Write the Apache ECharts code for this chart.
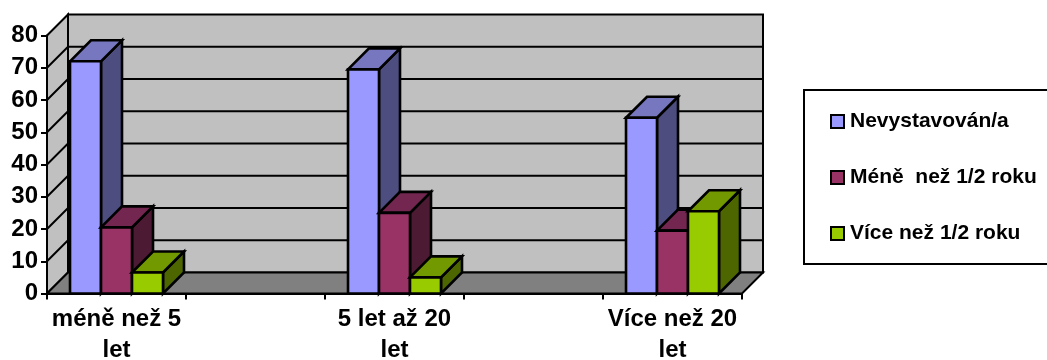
<!DOCTYPE html>
<html>
<head>
<meta charset="utf-8">
<style>html,body{margin:0;padding:0;background:#fff}#chart{width:1047px;height:360px}</style>
<script src="https://cdn.jsdelivr.net/npm/echarts@6/dist/echarts.min.js"></script>
</head>
<body>
<div id="chart"></div>
<script>
// The category axis has blank slots between the three age groups
const categories = ['méně než 5\nlet', '', '5 let až 20\nlet', '', 'Více než 20\nlet'];
const seriesNames = ['Nevystavován/a', 'Méně  než 1/2 roku', 'Více než 1/2 roku'];
const nevystavovan = [72, null, 69.5, null, 54.5];
const menePulRoku = [20.5, null, 25, null, 19.5];
const vicePulRoku = [6.5, null, 5, null, 25.5];
const yTicks = [0, 10, 20, 30, 40, 50, 60, 70, 80];

// Face colours of each box: front, top, side
const faceColors = [
  ['#9999FF', '#7777BF', '#4D4D80'],
  ['#993366', '#732650', '#4D1A33'],
  ['#99CC00', '#739900', '#4D6600']
];
const DEPTH = 21;
const LINE = { stroke: '#000', lineWidth: 2 };
const BOX_LINE = { stroke: '#000', lineWidth: 2.6 };

function poly(points, fill, line) {
  return { type: 'polygon', shape: { points }, style: { fill, ...line, lineJoin: 'miter' } };
}

// Back wall, side wall and floor of the 3D box, with gridlines from the value axis
function renderFrame(params, api) {
  const c = params.coordSys;
  const x0 = c.x, x1 = c.x + c.width, top = c.y, bot = c.y + c.height;
  const d = DEPTH;
  const children = [
    poly([[x0 + d, top - d], [x1 + d, top - d], [x1 + d, bot - d], [x0 + d, bot - d]], '#C0C0C0', LINE),
    poly([[x0, top], [x0 + d, top - d], [x0 + d, bot - d], [x0, bot]], '#C0C0C0', LINE),
    poly([[x0, bot], [x0 + d, bot - d], [x1 + d, bot - d], [x1, bot]], '#808080', LINE)
  ];
  yTicks.slice(1, -1).forEach(t => {
    const y = api.coord([0, t])[1];
    children.push({ type: 'polyline', shape: { points: [[x0, y], [x0 + d, y - d], [x1 + d, y - d]] }, style: { fill: null, ...LINE } });
  });
  return { type: 'group', children };
}

function boxRenderer(seriesIdx) {
  return function (params, api) {
    const cat = api.value(0);
    const center = api.coord([cat, 0])[0];
    const w = api.size([1, 0])[0] * 0.223;
    const x0 = center + (seriesIdx - 1.5) * w, x1 = x0 + w;
    const yTop = api.coord([cat, api.value(1)])[1];
    const yBot = api.coord([cat, 0])[1];
    const d = DEPTH;
    const [front, topFace, side] = faceColors[seriesIdx];
    return {
      type: 'group',
      children: [
        poly([[x1, yTop], [x1 + d, yTop - d], [x1 + d, yBot - d], [x1, yBot]], side, BOX_LINE),
        poly([[x0, yTop], [x0 + d, yTop - d], [x1 + d, yTop - d], [x1, yTop]], topFace, BOX_LINE),
        poly([[x0, yTop], [x1, yTop], [x1, yBot], [x0, yBot]], front, BOX_LINE)
      ]
    };
  };
}

function boxSeries(name, values, idx) {
  return {
    type: 'custom',
    name,
    coordinateSystem: 'cartesian2d',
    renderItem: boxRenderer(idx),
    encode: { x: 0, y: 1 },
    itemStyle: { color: faceColors[idx][0] },
    data: values.map((v, i) => [i, v]).filter(row => row[1] !== null),
    clip: false
  };
}

const axisLine = { show: true, onZero: false, lineStyle: { color: '#000', width: 2 } };
const axisTick = { show: true, length: 6, lineStyle: { color: '#000', width: 2 } };
const labelFont = { color: '#000', fontFamily: 'Liberation Sans', fontWeight: 'bold' };

const chart = echarts.init(document.getElementById('chart'), null, { renderer: 'canvas' });
chart.setOption({
  animation: false,
  backgroundColor: '#fff',
  grid: { left: 47, top: 35.5, width: 695, height: 258, containLabel: false, outerBoundsMode: 'none' },
  xAxis: {
    type: 'category',
    data: categories,
    z: 10,
    axisLine,
    axisTick,
    splitLine: { show: false },
    axisLabel: { ...labelFont, fontSize: 24, lineHeight: 31, margin: 10, interval: 0 }
  },
  yAxis: {
    type: 'value',
    min: 0,
    max: 80,
    interval: 10,
    z: 10,
    axisLine,
    axisTick,
    splitLine: { show: false },
    axisLabel: { ...labelFont, fontSize: 24, margin: 9 }
  },
  legend: {
    data: seriesNames,
    orient: 'vertical',
    left: 804,
    top: 90,
    padding: [21, 60, 20, 26],
    itemWidth: 13,
    itemHeight: 13,
    itemGap: 35,
    icon: 'rect',
    selectedMode: false,
    backgroundColor: '#fff',
    borderColor: '#000',
    borderWidth: 2,
    itemStyle: { borderColor: '#000', borderWidth: 2 },
    textStyle: { ...labelFont, fontSize: 21, lineHeight: 18, padding: [0, 0, 0, 1] }
  },
  series: [
    {
      type: 'custom',
      name: 'frame',
      coordinateSystem: 'cartesian2d',
      renderItem: renderFrame,
      silent: true,
      encode: { x: 0, y: 1 },
      data: [[0, 0]],
      clip: false,
      z: 1
    },
    boxSeries(seriesNames[0], nevystavovan, 0),
    boxSeries(seriesNames[1], menePulRoku, 1),
    boxSeries(seriesNames[2], vicePulRoku, 2)
  ]
});
</script>
</body>
</html>
